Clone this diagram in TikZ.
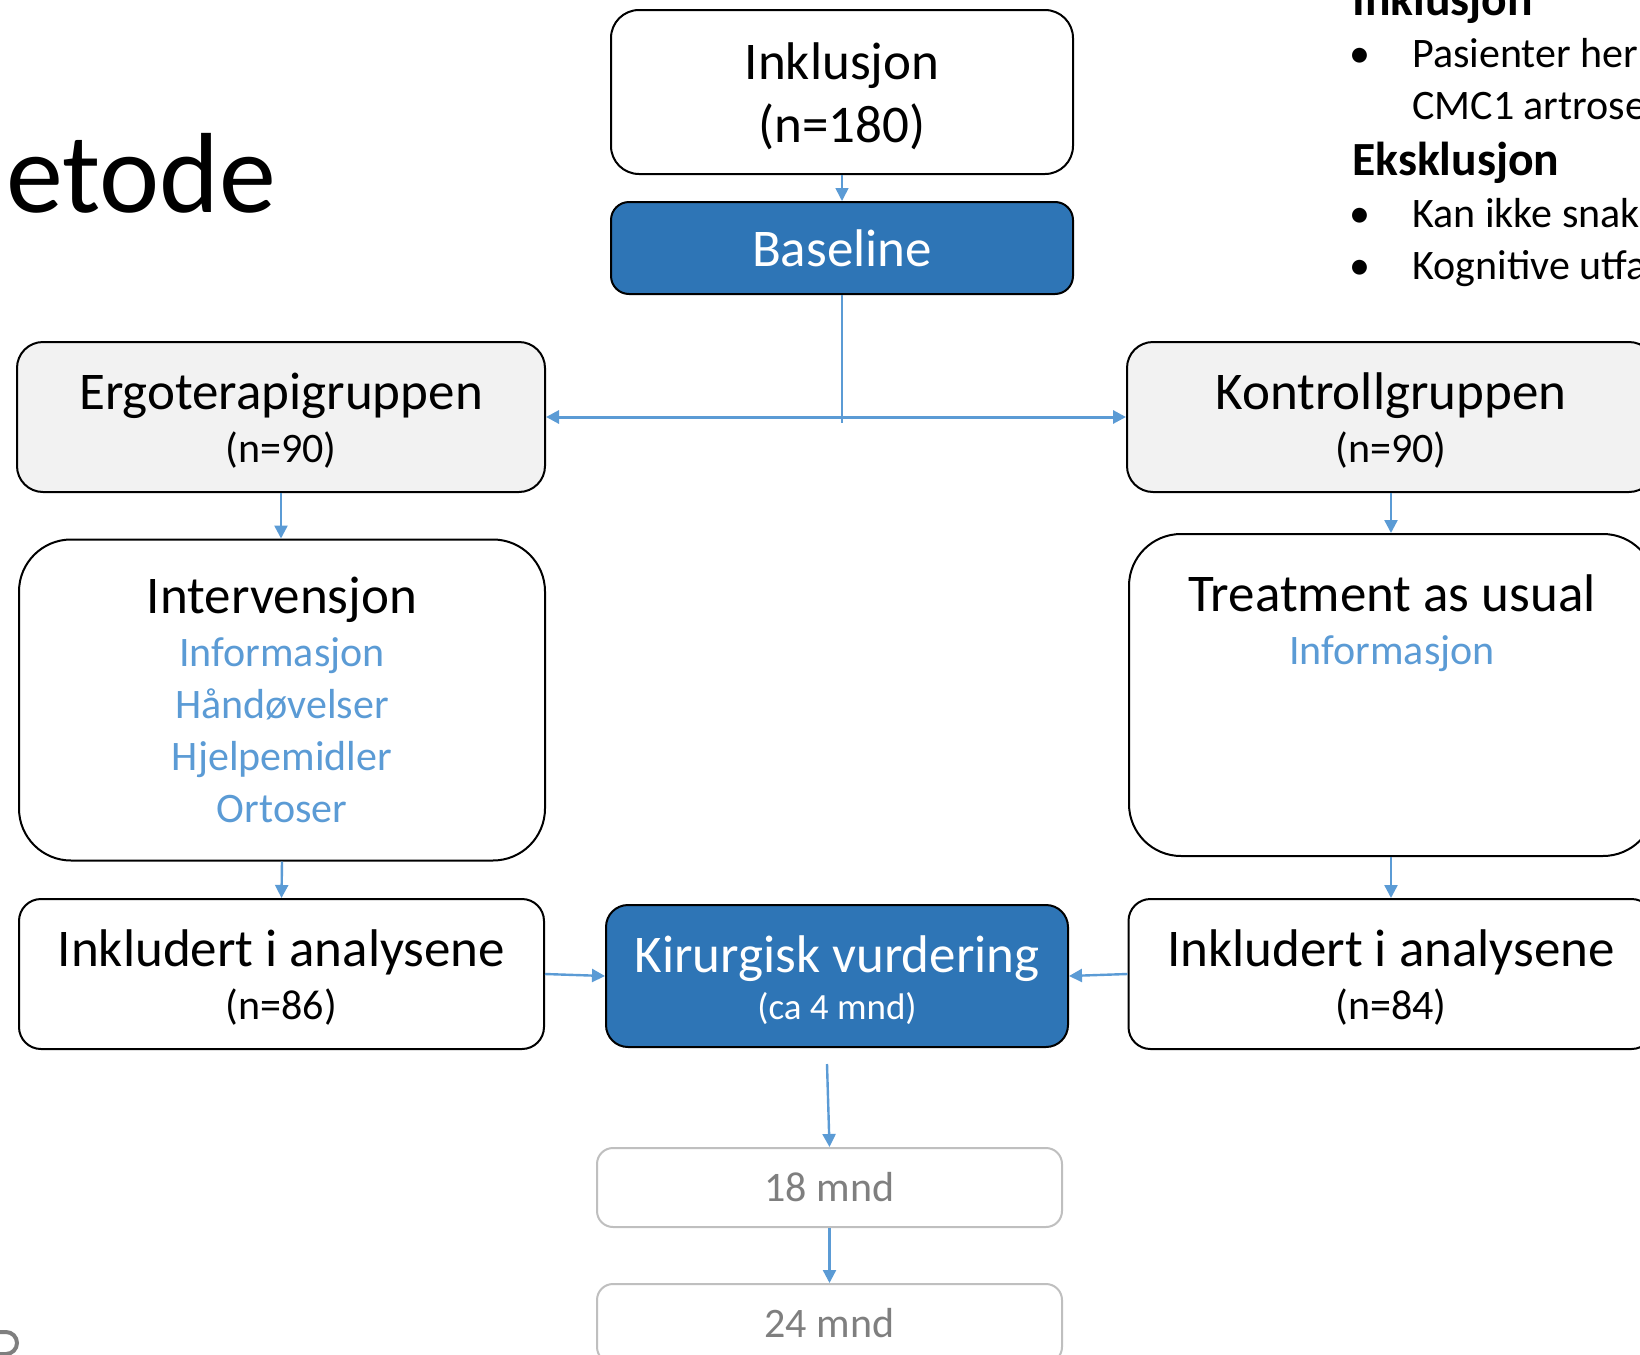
\documentclass[tikz,border=0pt]{standalone}
\usepackage{fontspec}
\setmainfont{Carlito}
\usepackage{tikz}
\usetikzlibrary{arrows.meta,positioning}
\definecolor{fcblue}{HTML}{2E75B6}
\definecolor{fcarrow}{HTML}{5B9BD5}
\definecolor{fcgreyd}{HTML}{F2F2F2}
\definecolor{fcgreyl}{HTML}{BFBFBF}
\definecolor{fcgreyt}{HTML}{7F7F7F}
\newcommand{\fsbig}{\fontsize{26.5pt}{26.5pt}\selectfont}
\newcommand{\fsincl}{\fontsize{26.5pt}{31.5pt}\selectfont}
\newcommand{\fsinter}{\fontsize{26.5pt}{26pt}\selectfont}
\newcommand{\fskir}{\fontsize{26.5pt}{23.5pt}\selectfont}
\newcommand{\fsmid}{\fontsize{21pt}{25.5pt}\selectfont}
\newcommand{\fssmall}{\fontsize{18.5pt}{23.5pt}\selectfont}
\newcommand{\fsside}{\fontsize{21pt}{26pt}\selectfont}
\newcommand{\fshead}{\fontsize{23.8pt}{26pt}\selectfont}
\newcommand{\fstitle}{\fontsize{57pt}{57pt}\selectfont}
\newcommand{\itm}[1]{{\fsmid\color{fcarrow}#1}}
\newcommand{\sub}[1]{{\fsmid #1}}
\newcommand{\tophold}[1]{\rule{0pt}{#1}}
\tikzset{
  fcbox/.style     = {draw, line width=1pt, align=center, inner sep=0pt,
                      text=black},
  plainbox/.style  = {fcbox, fill=white},
  groupbox/.style  = {fcbox, fill=fcgreyd},
  keybox/.style    = {fcbox, fill=fcblue, text=white},
  laterbox/.style  = {fcbox, draw=fcgreyl, fill=white, text=fcgreyt,
                      font=\fsmid, minimum width=232.5pt,
                      minimum height=39.5pt, rounded corners=8pt},
  %
  flow/.style      = {-{Triangle[length=6.5pt,width=6.5pt]}, draw=fcarrow,
                      line width=1.2pt},
  biflow/.style    = {{Triangle[length=6.5pt,width=6.5pt]}-%
                      {Triangle[length=6.5pt,width=6.5pt]},
                      draw=fcarrow, line width=1.5pt},
  splitline/.style = {draw=fcarrow, line width=0.6pt},
  %
  sidehead/.style  = {anchor=base west, inner sep=0pt,
                      font=\fshead\bfseries},
  sideitem/.style  = {anchor=base west, inner sep=0pt, font=\fsside},
  sidebul/.style   = {anchor=base, inner sep=0pt, font=\fsside},
}

\begin{document}
\begin{tikzpicture}[x=0.5pt, y=-0.5pt]
  \useasboundingbox (0,0) rectangle (1640,1355);
  \clip (0,0) rectangle (1640,1355);

  % ---------- slide title and side text ----------------------------
  \node[anchor=base west, inner sep=0pt, font=\fstitle] (title)
    at (6,212) {etode};
  \node[sidehead] (inclHead) at (1352,15) {Inklusjon};
  \node[sidebul]  (b1) at (1360,67)  {\textbullet};
  \node[sideitem] (i1) at (1412,67)  {Pasienter her};
  \node[sideitem] (i2) at (1412,119) {CMC1 artrose};
  \node[sidehead] (exclHead) at (1352,175) {Eksklusjon};
  \node[sidebul]  (b2) at (1360,227) {\textbullet};
  \node[sideitem] (e1) at (1412,227) {Kan ikke snak};
  \node[sidebul]  (b3) at (1360,279) {\textbullet};
  \node[sideitem] (e2) at (1412,279) {Kognitive utfa};
  \draw[fcgreyt, line width=2pt] (0,1332) -- (6,1332)
    arc[start angle=-90, end angle=90, radius=11] -- (0,1354);

  % ---------- top ----------------------------------------------------
  \node[plainbox, font=\fsincl, minimum width=231pt, minimum height=82pt,
        rounded corners=14pt] (incl) at (842,92)
    {\tophold{23pt}Inklusjon\\(n=180)};
  \node[keybox, font=\fsbig, minimum width=231pt, minimum height=46pt,
        rounded corners=9pt] (base) at (842,248) {Baseline};

  % ---------- the two groups ------------------------------------------
  \node[groupbox, font=\fsbig, minimum width=264pt, minimum height=75pt,
        rounded corners=13pt] (ergo) at (281,417)
    {\tophold{22.25pt}Ergoterapigruppen\\\sub{(n=90)}};
  \node[groupbox, font=\fsbig, minimum width=264pt, minimum height=75pt,
        rounded corners=13pt] (kontroll) at (1391,417)
    {\tophold{22.25pt}Kontrollgruppen\\\sub{(n=90)}};

  \node[plainbox, font=\fsinter, minimum width=263pt, minimum height=160.5pt,
        rounded corners=26pt] (interv) at (282,700)
    {Intervensjon\\[0.5pt]\itm{Informasjon}\\\itm{Håndøvelser}\\
     \itm{Hjelpemidler}\\\itm{Ortoser}};
  \node[plainbox, minimum width=263pt, minimum height=161pt,
        rounded corners=26pt] (tau) at (1392,695) {};
  \node[font=\fsinter, align=center, inner sep=0pt, anchor=north]
    (tauText) at ([yshift=-20.5pt]tau.north)
    {Treatment as usual\\[0.5pt]\itm{Informasjon}};

  \node[plainbox, font=\fsbig, minimum width=262.5pt, minimum height=75pt,
        rounded corners=11pt] (inklL) at (281.5,974)
    {\tophold{22.25pt}Inkludert i analysene\\\sub{(n=86)}};
  \node[plainbox, font=\fsbig, minimum width=262.5pt, minimum height=75pt,
        rounded corners=11pt] (inklR) at (1391,974)
    {\tophold{22.25pt}Inkludert i analysene\\\sub{(n=84)}};

  % ---------- assessment and follow-up ---------------------------------
  \node[keybox, font=\fskir, minimum width=231pt, minimum height=71pt,
        rounded corners=11pt] (kir) at (837,976)
    {\tophold{22.9pt}Kirurgisk vurdering\\{\fssmall (ca 4 mnd)}};
  \node[laterbox] (m18) at (829.5,1187.5) {18 mnd};
  \node[laterbox, below=27.5pt of m18] (m24) {24 mnd};

  % ---------- connectors ----------------------------------------------
  \coordinate (split) at (842,423);
  \coordinate (kirOut) at (827,1064);
  \draw[flow, line width=0.8pt] (incl.south) -- (base.north);
  \draw[splitline] (base.south) -- (split);
  \draw[biflow] (ergo.east) -- (kontroll.west);
  \draw[flow] (ergo.south) -- (ergo.south |- interv.north);
  \draw[flow] (kontroll.south) -- (kontroll.south |- tau.north);
  \draw[flow] (interv.south) -- (inklL.north);
  \draw[flow] (tau.south -| inklR.north) -- (inklR.north);
  \draw[flow] (inklL.east) -- (kir.west);
  \draw[flow] (inklR.west) -- (kir.east);
  \draw[flow] (kirOut) -- (m18.north);
  \draw[flow] (m18.south) -- (m24.north);

\end{tikzpicture}
\end{document}
